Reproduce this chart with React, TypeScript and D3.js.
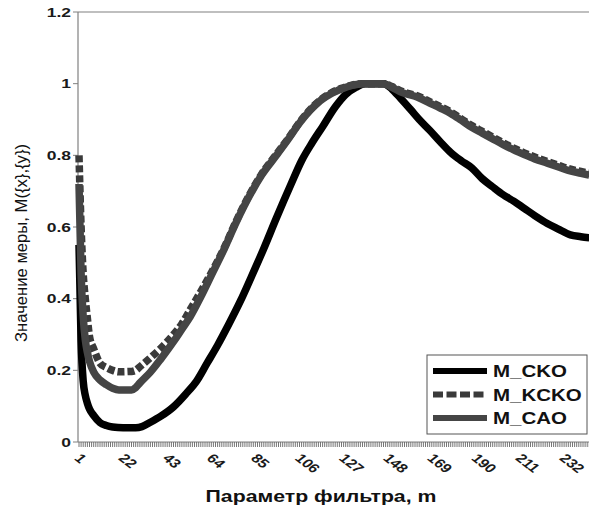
import * as d3 from "d3";

const mCKO = [1, 2, 3, 4, 5, 6, 8, 11, 14, 17, 22, 28, 31, 35, 40, 46, 52, 57, 62, 67, 72, 78, 83, 89, 95, 102, 107, 112, 117, 123, 128, 133, 137, 146, 150, 154, 159, 163, 168, 173, 178, 183, 188, 193, 198, 203, 208, 213, 218, 224, 229, 235, 240, 244];
const vCKO = [0.55, 0.28, 0.17, 0.13, 0.108, 0.092, 0.074, 0.054, 0.046, 0.042, 0.04, 0.04, 0.043, 0.055, 0.072, 0.098, 0.135, 0.17, 0.22, 0.27, 0.325, 0.395, 0.46, 0.54, 0.625, 0.72, 0.785, 0.835, 0.88, 0.935, 0.97, 0.99, 1.0, 1.0, 0.985, 0.96, 0.927, 0.9, 0.87, 0.838, 0.808, 0.785, 0.765, 0.735, 0.712, 0.69, 0.672, 0.652, 0.632, 0.61, 0.595, 0.578, 0.573, 0.57];

const mGray = [1, 2, 3, 4, 5, 6, 8, 11, 14, 17, 20, 26, 28, 30, 35, 40, 46, 50, 54, 59, 64, 70, 76, 82, 88, 95, 101, 106, 111, 116, 121, 126, 131, 136, 146, 150, 155, 162, 168, 173, 178, 183, 188, 193, 198, 203, 208, 213, 218, 224, 229, 234, 240, 244];
const vKCKO = [0.8, 0.6, 0.47, 0.4, 0.345, 0.295, 0.26, 0.22, 0.208, 0.2, 0.196, 0.197, 0.2, 0.21, 0.235, 0.262, 0.3, 0.33, 0.37, 0.42, 0.472, 0.54, 0.618, 0.688, 0.748, 0.803, 0.85, 0.892, 0.927, 0.955, 0.974, 0.987, 0.996, 1.0, 1.0, 0.992, 0.978, 0.966, 0.95, 0.936, 0.921, 0.902, 0.883, 0.867, 0.851, 0.835, 0.82, 0.807, 0.795, 0.783, 0.773, 0.763, 0.755, 0.75];
const vCAO = [0.72, 0.47, 0.35, 0.285, 0.25, 0.225, 0.195, 0.173, 0.16, 0.15, 0.145, 0.145, 0.152, 0.165, 0.195, 0.232, 0.28, 0.315, 0.35, 0.405, 0.465, 0.537, 0.615, 0.685, 0.745, 0.8, 0.848, 0.89, 0.925, 0.953, 0.972, 0.985, 0.995, 1.0, 1.0, 0.99, 0.975, 0.963, 0.946, 0.932, 0.917, 0.898, 0.878, 0.862, 0.846, 0.83, 0.815, 0.802, 0.79, 0.778, 0.768, 0.758, 0.75, 0.745];

const xTickLabels = [1, 22, 43, 64, 85, 106, 127, 148, 169, 190, 211, 232];
const yTicks = [0, 0.2, 0.4, 0.6, 0.8, 1, 1.2];
const seriesNames = ["M_CKO", "M_KCKO", "M_CAO"];

const W = 589;
const H = 512;
const FONT = "'Liberation Sans', Arial, sans-serif";

export default function App() {
  const x = d3.scaleLinear().domain([1, 244]).range([79, 589.3]);
  const y = d3.scaleLinear().domain([0, 1.2]).range([442, 12]);

  const line = d3
    .line<[number, number]>()
    .x((d) => x(d[0]))
    .y((d) => y(d[1]))
    .curve(d3.curveMonotoneX);

  const series = [
    { name: seriesNames[0], pts: mCKO.map((m, i) => [m, vCKO[i]] as [number, number]), color: "#000", dash: undefined },
    { name: seriesNames[1], pts: mGray.map((m, i) => [m, vKCKO[i]] as [number, number]), color: "#3a3a3a", dash: "7,3" },
    { name: seriesNames[2], pts: mGray.map((m, i) => [m, vCAO[i]] as [number, number]), color: "#454545", dash: undefined },
  ];

  const minorTicks = d3.range(1, 246);

  return (
    <div style={{ position: "absolute", left: 0, top: 0 }}>
      <svg width={W} height={H} style={{ display: "block", background: "#fff" }} fontFamily={FONT}>
        {/* plot frame */}
        <line x1={78} x2={W} y1={12} y2={12} stroke="#808080" strokeWidth={1.2} />
        <line x1={78} x2={78} y1={12} y2={442} stroke="#808080" strokeWidth={1.2} />

        {/* y ticks */}
        {yTicks.map((t) => (
          <g key={t}>
            <line x1={73} x2={78} y1={y(t)} y2={y(t)} stroke="#808080" />
            <text
              transform={`translate(71,${y(t) + 4.5}) scale(1.4,1)`}
              textAnchor="end"
              fontSize={12.5}
              fontWeight="bold"
              fill="#1a1a1a"
            >
              {String(t)}
            </text>
          </g>
        ))}

        {/* lines */}
        {series.map((s) => (
          <path
            key={s.name}
            d={line(s.pts) || ""}
            fill="none"
            stroke={s.color}
            strokeWidth={7.5}
            strokeDasharray={s.dash}
            strokeLinejoin="round"
          />
        ))}

        {/* x axis */}
        <line x1={78} x2={W} y1={442} y2={442} stroke="#808080" strokeWidth={1.2} />
        {minorTicks.map((m) => (
          <line key={m} x1={x(m)} x2={x(m)} y1={442} y2={447} stroke="#666" strokeWidth={0.9} />
        ))}
        {xTickLabels.map((m) => (
          <text
            key={m}
            transform={`translate(${x(m) - 5.5},459) scale(1.3,1) rotate(45)`}
            fontSize={12.5}
            fontWeight="bold"
            fill="#1a1a1a"
          >
            {m}
          </text>
        ))}

        {/* axis titles */}
        <text
          transform={`translate(321,502) scale(1.33,1)`}
          textAnchor="middle"
          fontSize={16}
          fontWeight="bold"
          fill="#111"
        >
          Параметр фильтра, m
        </text>
        <text
          transform={`translate(27,243) rotate(-90)`}
          textAnchor="middle"
          fontSize={16}
          fill="#111"
          textLength={198}
          lengthAdjust="spacingAndGlyphs"
        >
          Значение меры, M({"{x}"},{"{y}"})
        </text>

        {/* legend */}
        <rect x={427} y={355} width={160} height={79} fill="#fff" stroke="#555" strokeWidth={1} />
        {series.map((s, i) => {
          const cy = 371 + i * 23.5;
          return (
            <g key={s.name}>
              <line x1={433} x2={487} y1={cy} y2={cy} stroke={s.color} strokeWidth={6} strokeDasharray={s.dash ? "10,3.5" : undefined} />
              <text
                transform={`translate(493,${cy + 6}) scale(1.28,1)`}
                fontSize={16}
                fontWeight="bold"
                fill="#111"
              >
                {s.name}
              </text>
            </g>
          );
        })}
      </svg>
    </div>
  );
}
